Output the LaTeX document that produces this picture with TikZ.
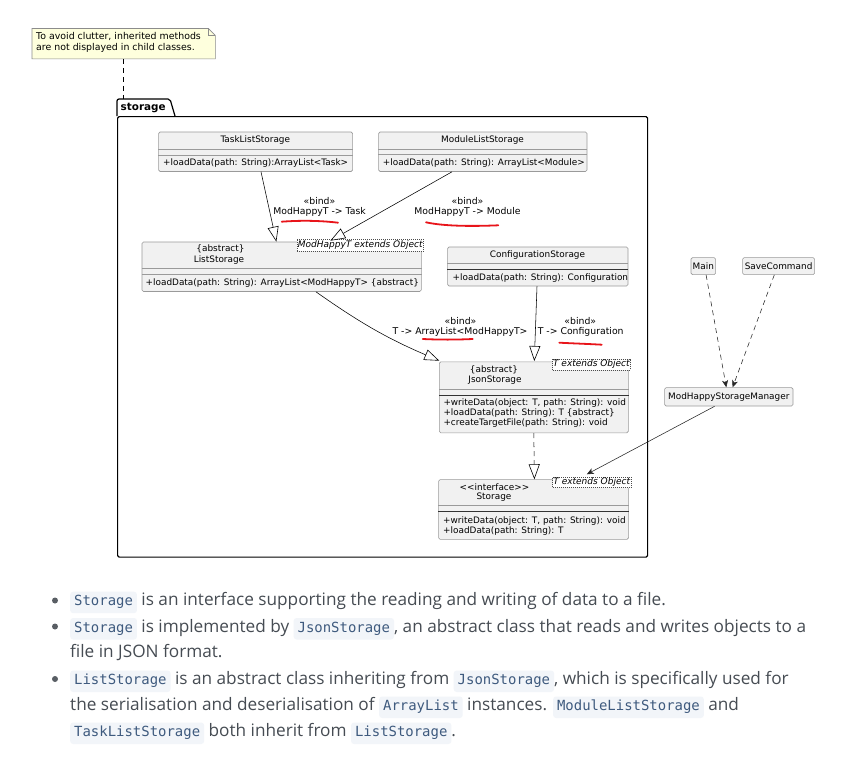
\documentclass[tikz,border=0pt]{standalone}
\usepackage{fontspec}
\usetikzlibrary{arrows.meta,calc}
\newfontfamily\umlsans{DejaVu Sans}
\newfontfamily\umlmono{DejaVu Sans Mono}
\newfontfamily\docsans{Open Sans}
\definecolor{clsfill}{HTML}{F1F1F1}
\definecolor{clsborder}{HTML}{9A9A9A}
\definecolor{notefill}{HTML}{FEFFDD}
\definecolor{noteborder}{HTML}{8C8C8C}
\definecolor{bodytext}{HTML}{464C53}
\definecolor{chipbg}{HTML}{F2F5F9}
\definecolor{chipfg}{HTML}{3E5A7E}
\definecolor{penred}{HTML}{E8141A}
\newcommand\dfont{\umlsans\fontsize{8.9}{10}\selectfont}
\newcommand\lfont{\umlsans\fontsize{9.3}{10}\selectfont}
\newcommand\chip[1]{\tikz[baseline=(chipn.base)]\node[fill=chipbg,rounded corners=3pt,inner xsep=4pt,inner ysep=4pt,text height=10pt,text depth=3.5pt,text=chipfg,font=\umlmono\fontsize{13.95}{16}\selectfont](chipn){#1};}
\begin{document}
\begin{tikzpicture}[x=1pt,y=-1pt,
  cls/.style={draw=clsborder,fill=clsfill,rounded corners=1.5pt,line width=0.6pt,inner sep=0pt,anchor=north west},
  sep/.style={draw=clsborder,line width=0.6pt},
  sepdark/.style={draw=black!80,line width=0.7pt},
  ctext/.style={inner sep=0pt,font=\dfont},
  mtext/.style={inner sep=0pt,font=\dfont,anchor=west,align=left},
  lbl/.style={inner sep=0pt,font=\lfont},
  tmpl/.style={draw=black!70,dash pattern=on 1pt off 1pt,fill=white,inner sep=0pt,anchor=north west,line width=0.5pt,font=\umlsans\fontsize{9}{10}\selectfont\itshape},
  ext/.style={line width=0.55pt,-{Triangle[length=15pt,width=11pt,fill=white,line width=0.6pt]}},
  extdash/.style={ext,dash pattern=on 5pt off 4pt},
  assoc/.style={line width=0.55pt,black!85,-{Stealth[length=7pt,width=6pt,inset=2pt]}},
  dep/.style={assoc,dash pattern=on 5pt off 4pt},
  ink/.style={draw=penred,line width=1.8pt,line cap=round},
  btext/.style={inner sep=0pt,anchor=base west,text=bodytext,font=\docsans\fontsize{17.2}{20}\selectfont},
  bdot/.style={circle,fill=bodytext!90,inner sep=0pt,minimum size=6pt}
]
\useasboundingbox (0,0) rectangle (860,760);
\fill[white] (0,0) rectangle (860,760);

% ---------- note ----------
\node[inner sep=0pt,minimum width=183pt,minimum height=30pt,anchor=north west] (note) at (32,28.5) {};
\draw[fill=notefill,draw=noteborder,line width=0.6pt] (note.south west) -- (note.north west) -- ($(note.north east)+(-7,0)$) -- ($(note.north east)+(0,7)$) -- (note.south east) -- cycle;
\draw[draw=noteborder,line width=0.6pt] ($(note.north east)+(-7,0)$) -- ($(note.north east)+(-7,7)$) -- ($(note.north east)+(0,7)$);
\node[inner sep=0pt,anchor=north west,align=left,font=\umlsans\fontsize{9.4}{11.3}\selectfont] (notetext) at (36,32) {To avoid clutter, inherited methods\\are not displayed in child classes.};

% ---------- package ----------
\node[inner sep=0pt,minimum width=54pt,minimum height=17pt,anchor=north west,font=\umlsans\fontsize{10.4}{12}\selectfont\bfseries] (pkgtab) at (117,99) {\hspace{-2pt}storage};
\node[draw,line width=1.2pt,rounded corners=1.5pt,inner sep=0pt,minimum width=530pt,minimum height=440.5pt,anchor=north west] (pkg) at (117,116) {};
\draw[line width=1.2pt,rounded corners=2pt] (pkg.north west) -- (pkgtab.north west) -- (170,99) -- (175,116);
\draw[dash pattern=on 5pt off 4pt,line width=0.6pt] (note.south -| 123.3,0) -- (123.3,99);

% ---------- TaskListStorage ----------
\node[cls,minimum width=194pt,minimum height=39.5pt] (tls) at (158.3,131.7) {};
\draw[sep] (tls.west |- 0,149.5) -- (tls.east |- 0,149.5);
\draw[sep] (tls.west |- 0,155) -- (tls.east |- 0,155);
\node[ctext] (tlsname) at (255.3,140.3) {TaskListStorage};
\node[mtext] (tlsm) at (163,163.3) {+loadData(path: String):ArrayList<Task>};

% ---------- ModuleListStorage ----------
\node[cls,minimum width=208.4pt,minimum height=39.5pt] (mls) at (378.3,131.7) {};
\draw[sep] (mls.west |- 0,149.3) -- (mls.east |- 0,149.3);
\draw[sep] (mls.west |- 0,154.5) -- (mls.east |- 0,154.5);
\node[ctext] (mlsname) at (482.5,140.5) {ModuleListStorage};
\node[mtext] (mlsm) at (382.7,163.3) {+loadData(path: String): ArrayList<Module>};

% ---------- ListStorage ----------
\node[cls,minimum width=279.3pt,minimum height=49.5pt] (ls) at (141.7,241.7) {};
\draw[sep] (ls.west |- 0,268.5) -- (ls.east |- 0,268.5);
\draw[sep] (ls.west |- 0,274.5) -- (ls.east |- 0,274.5);
\node[ctext] (lsabs) at (220.5,249.3) {\{abstract\}};
\node[ctext] (lsname) at (219,260) {ListStorage};
\node[mtext] (lsm) at (145.5,283.3) {+loadData(path: String): ArrayList<ModHappyT> \{abstract\}};
\node[tmpl,minimum width=126.6pt,minimum height=11.7pt] (lstmpl) at (296.7,239) {ModHappyT extends Object};

% ---------- ConfigurationStorage ----------
\node[cls,minimum width=180.4pt,minimum height=39pt] (cs) at (447.3,246.7) {};
\draw[sep] (cs.west |- 0,263.5) -- (cs.east |- 0,263.5);
\draw[sepdark] (cs.west |- 0,269.3) -- (cs.east |- 0,269.3);
\node[ctext] (csname) at (537.5,255.2) {ConfigurationStorage};
\node[mtext] (csm) at (452.5,277.7) {+loadData(path: String): Configuration};

% ---------- JsonStorage ----------
\node[cls,minimum width=189pt,minimum height=71pt] (js) at (439,361.5) {};
\draw[sep] (js.west |- 0,388.8) -- (js.east |- 0,388.8);
\draw[sepdark] (js.west |- 0,395) -- (js.east |- 0,395);
\node[ctext] (jsabs) at (494,369.6) {\{abstract\}};
\node[ctext] (jsname) at (495,380.3) {JsonStorage};
\node[mtext] (jsm) at (443.3,413) {+writeData(object: T, path: String): void\\+loadData(path: String): T \{abstract\}\\+createTargetFile(path: String): void};
\node[tmpl,minimum width=77.7pt,minimum height=10.5pt] (jstmpl) at (552.3,359) {T extends Object};

% ---------- Storage ----------
\node[cls,minimum width=190pt,minimum height=59.7pt] (st) at (438.3,479.3) {};
\draw[sep] (st.west |- 0,505.5) -- (st.east |- 0,505.5);
\draw[sepdark] (st.west |- 0,511.5) -- (st.east |- 0,511.5);
\node[ctext] (stint) at (494.5,487.5) {<<interface>>};
\node[ctext] (stname) at (494,497.6) {Storage};
\node[mtext] (stm) at (443,526) {+writeData(object: T, path: String): void\\+loadData(path: String): T};
\node[tmpl,minimum width=78.4pt,minimum height=10.6pt] (sttmpl) at (552.3,476.7) {T extends Object};

% ---------- outside classes ----------
\node[cls,font=\dfont,minimum width=24.6pt,minimum height=17pt] (main) at (690.7,257.3) {Main};
\node[cls,font=\dfont,minimum width=72pt,minimum height=17pt] (savecmd) at (742.3,257.3) {SaveCommand};
\node[cls,font=\dfont,minimum width=128.4pt,minimum height=18.4pt] (mhsm) at (664.3,387.3) {ModHappyStorageManager};

% ---------- connectors ----------
\draw[ext] ($(tls.south)+(5.4,0)$) -- ($(ls.north)+(-5.3,0)$);
\draw[ext] ($(mls.south)+(-30.8,0)$) -- ($(ls.north)+(48.7,-1)$);
\draw[ext] ($(ls.south)+(34.3,0)$) to[bend right=6] ($(js.north west)+(0.3,-0.8)$);
\draw[ext] ($(cs.south)+(-0.8,0)$) -- ($(js.north)+(0.5,-0.5)$);
\draw[extdash] (js.south) -- ($(st.north)+(0.8,0)$);
\draw[assoc] ($(mhsm.south)+(-14.2,0)$) -- ($(st.north)+(53.2,-5)$);
\draw[dep] ($(main.south)+(2.8,0)$) -- ($(mhsm.north)+(-2.5,0)$);
\draw[dep] ($(savecmd.south)+(-4.3,0)$) -- ($(mhsm.north)+(3.8,0)$);

% ---------- bind labels ----------
\node[lbl] (b1s) at (319.5,201) {«bind»};
\node[lbl] (b1) at (319.5,212) {ModHappyT -> Task};
\node[lbl] (b2s) at (467.5,201) {«bind»};
\node[lbl] (b2) at (467.5,211.7) {ModHappyT -> Module};
\node[lbl] (b3s) at (460.5,320.7) {«bind»};
\node[lbl] (b3) at (460,332.3) {T -> ArrayList<ModHappyT>};
\node[lbl] (b4s) at (580.3,320.7) {«bind»};
\node[lbl] (b4) at (580.7,332.3) {T -> Configuration};

% ---------- red ink ----------
\draw[ink] (281.7,221.7) .. controls (300,220.3) and (320,220.5) .. (338,222.7);
\draw[ink] (426,222.3) .. controls (445,226.5) and (475,226.3) .. (498.3,225.3);
\draw[ink] (422.7,339) .. controls (440,339.8) and (455,339.8) .. (472.7,339);
\draw[ink] (559.3,342.7) .. controls (575,343.5) and (590,344) .. (601.7,344.7);

% ---------- bullets ----------
\node[bdot] (d1) at (55,600.5) {};
\node[bdot] (d2) at (55,626.5) {};
\node[bdot] (d3) at (55,679) {};
\node[btext] (l1) at (70,605.7) {\chip{Storage} is an interface supporting the reading and writing of data to a file.};
\node[btext] (l2) at (70,632) {\chip{Storage} is implemented by \chip{JsonStorage}, an abstract class that reads and writes objects to a};
\node[btext] (l3) at (70,657.8) {file in JSON format.};
\node[btext] (l4) at (70,684.5) {\chip{ListStorage} is an abstract class inheriting from \chip{JsonStorage}, which is specifically used for};
\node[btext] (l5) at (70,710.5) {the serialisation and deserialisation of \chip{ArrayList} instances. \chip{ModuleListStorage} and};
\node[btext] (l6) at (70,736.5) {\chip{TaskListStorage} both inherit from \chip{ListStorage}.};
\end{tikzpicture}
\end{document}
